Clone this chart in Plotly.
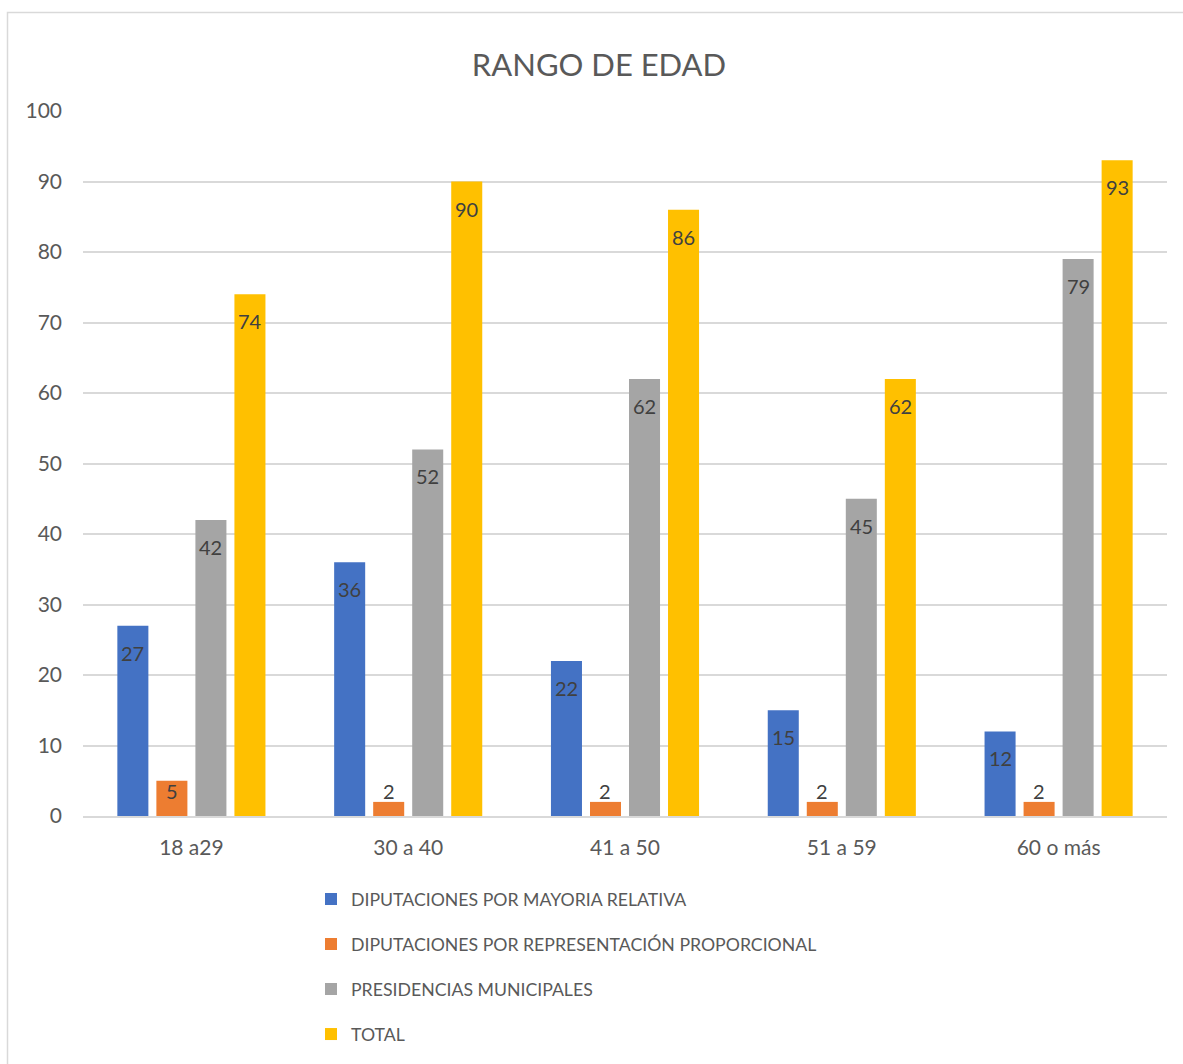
import plotly.graph_objects as go

categories = ["18 a29", "30 a 40", "41 a 50", "51 a 59", "60 o más"]
series_names = [
    "DIPUTACIONES POR MAYORIA RELATIVA",
    "DIPUTACIONES POR REPRESENTACIÓN PROPORCIONAL",
    "PRESIDENCIAS MUNICIPALES",
    "TOTAL",
]
mayoria = [27, 36, 22, 15, 12]
representacion = [5, 2, 2, 2, 2]
presidencias = [42, 52, 62, 45, 79]
total = [74, 90, 86, 62, 93]
y_ticks = [0, 10, 20, 30, 40, 50, 60, 70, 80, 90, 100]

series_values = [mayoria, representacion, presidencias, total]
colors = ["#4472C4", "#ED7D31", "#A5A5A5", "#FFC000"]

W, H = 1183, 1064
ML, MR, MT, MB = 83, 16, 111, 248
PW = W - ML - MR
PH = H - MT - MB
BARGAP = 0.28
BARGROUPGAP = 0.205
FONT = "Lato, Carlito, Calibri, sans-serif"

fig = go.Figure()
for k, (name, vals, col) in enumerate(zip(series_names, series_values, colors)):
    fig.add_trace(go.Bar(
        x=categories, y=vals, name=name,
        marker=dict(color=col, line=dict(width=0)),
        legendgroup=name,
        hoverinfo="x+y+name",
    ))

annotations = []
n = len(series_values)
slot = (1 - BARGAP) / n
for k, vals in enumerate(series_values):
    for i, v in enumerate(vals):
        xpos = i + (k - (n - 1) / 2) * slot
        if v >= 8:
            y, ys = v, -27
        else:
            y, ys = 0, 25
        annotations.append(dict(
            x=xpos, y=y, xref="x", yref="y", text=str(v), showarrow=False,
            yshift=ys, yanchor="middle", xanchor="center",
            font=dict(family=FONT, size=20, color="#404040"),
        ))

fig.update_layout(
    width=W, height=H, autosize=False,
    margin=dict(l=ML, r=MR, t=MT, b=MB, autoexpand=False),
    paper_bgcolor="white", plot_bgcolor="white",
    barmode="group", bargap=BARGAP, bargroupgap=BARGROUPGAP,
    title=dict(text="RANGO DE EDAD", x=599 / W, xanchor="center",
               xref="container", y=1 - 65 / H, yanchor="middle",
               font=dict(family=FONT, size=31, color="#595959")),
    font=dict(family=FONT, color="#595959"),
    showlegend=True,
    legend=dict(
        orientation="v", traceorder="grouped", tracegroupgap=19,
        xref="container", yref="container",
        x=311 / W, xanchor="left",
        y=1 - 881 / H, yanchor="top",
        font=dict(family=FONT, size=17.7, color="#595959"),
        bgcolor="rgba(0,0,0,0)",
    ),
    xaxis=dict(
        type="category", showgrid=False, showline=True,
        linecolor="#D9D9D9", linewidth=1.5, ticks="",
        tickfont=dict(family=FONT, size=21, color="#595959"),
        ticklabelstandoff=12,
    ),
    yaxis=dict(
        range=[0, 100], tickvals=y_ticks, showgrid=True,
        gridcolor="#D9D9D9", gridwidth=1.5, zeroline=False,
        showline=False, ticks="",
        tickfont=dict(family=FONT, size=21, color="#595959"),
        ticklabelstandoff=20,
    ),
    annotations=annotations,
    shapes=[dict(
        type="rect", xref="paper", yref="paper",
        x0=-(ML - 7.5) / PW, x1=1 + (MR + 5) / PW,
        y0=-(MB + 5) / PH, y1=1 + (MT - 12.5) / PH,
        line=dict(color="#D9D9D9", width=1.5), fillcolor="rgba(0,0,0,0)",
        layer="below",
    )],
)

fig.write_html(
    "out.html",
    config={"displayModeBar": False},
    post_script="document.body.style.margin='0';document.body.style.overflow='hidden';",
)
